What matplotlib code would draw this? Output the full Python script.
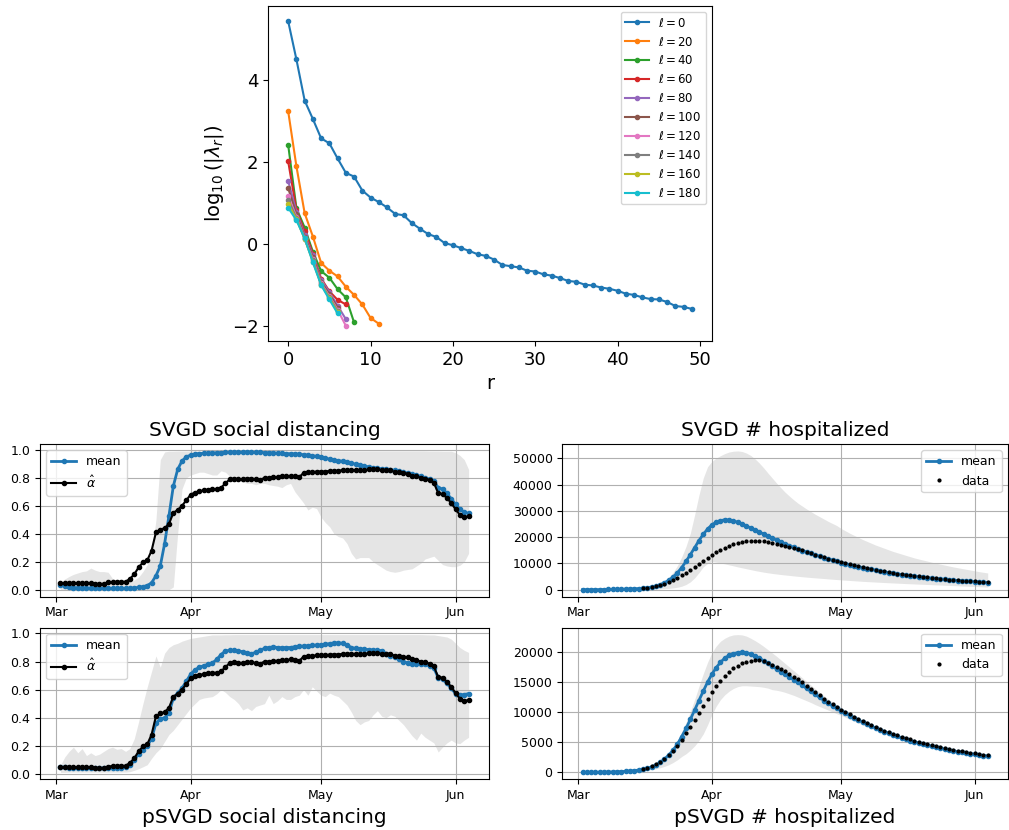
import numpy as np
import matplotlib
matplotlib.use("Agg")
import matplotlib.pyplot as plt
import matplotlib.dates as mdates
from matplotlib.ticker import MultipleLocator

W, H = 1009, 830
NAN = np.nan

# ---- eigenvalue decay, log10(|lambda_r|) per ell ----
ELLS = [0, 20, 40, 60, 80, 100, 120, 140, 160, 180]
EIG = [
    [5.42, 4.49, 3.49, 3.04, 2.57, 2.45, 2.08, 1.73, 1.64, 1.30,
     1.13, 1.02, 0.89, 0.73, 0.70, 0.51, 0.37, 0.24, 0.17, 0.02,
     -0.03, -0.10, -0.17, -0.25, -0.29, -0.38, -0.51, -0.54, -0.57, -0.65,
     -0.67, -0.74, -0.77, -0.83, -0.90, -0.92, -0.99, -1.01, -1.06, -1.09,
     -1.14, -1.21, -1.24, -1.30, -1.34, -1.35, -1.41, -1.51, -1.53, -1.58],
    [3.23, 1.89, 0.75, 0.18, -0.46, -0.65, -0.79, -1.04, -1.24, -1.47, -1.80, -1.94],
    [2.41, 0.87, 0.40, -0.19, -0.66, -0.82, -1.10, -1.30, -1.91],
    [2.01, 0.83, 0.31, -0.24, -0.84, -1.15, -1.36, -1.47],
    [1.54, 0.78, 0.22, -0.28, -0.88, -1.17, -1.50, -1.83],
    [1.36, 0.72, 0.18, -0.32, -0.92, -1.22, -1.55],
    [1.17, 0.66, 0.14, -0.37, -0.96, -1.27, -1.60, -1.99],
    [1.08, 0.63, 0.12, -0.40, -0.98, -1.30, -1.63],
    [0.98, 0.60, 0.13, -0.43, -0.99, -1.32, -1.66],
    [0.88, 0.58, 0.14, -0.45, -1.00, -1.35, -1.69],
]

# ---- daily series, 2020-03-02 .. 2020-06-04 ----
DATES = np.arange(np.datetime64("2020-03-02"), np.datetime64("2020-06-05"))

ALPHA_HAT = [
    0.048, 0.048, 0.047, 0.046, 0.046, 0.046, 0.045, 0.045, 0.042, 0.041,
    0.043, 0.052, 0.055, 0.056, 0.057, 0.057, 0.078, 0.110, 0.160, 0.195,
    0.210, 0.280, 0.410, 0.430, 0.440, 0.470, 0.550, 0.570, 0.600, 0.640,
    0.680, 0.695, 0.705, 0.710, 0.715, 0.720, 0.720, 0.730, 0.760, 0.790,
    0.795, 0.790, 0.790, 0.795, 0.795, 0.790, 0.785, 0.800, 0.800, 0.805,
    0.805, 0.810, 0.810, 0.815, 0.810, 0.805, 0.835, 0.840, 0.840, 0.845,
    0.845, 0.845, 0.850, 0.850, 0.850, 0.855, 0.855, 0.855, 0.855, 0.855,
    0.855, 0.860, 0.860, 0.860, 0.855, 0.855, 0.855, 0.840, 0.840, 0.835,
    0.830, 0.815, 0.810, 0.800, 0.795, 0.785, 0.765, 0.690, 0.685, 0.655,
    0.620, 0.575, 0.535, 0.520, 0.525]

SD_SVGD_MEAN = [
    0.031, 0.024, 0.019, 0.016, 0.014, 0.013, 0.012, 0.011, 0.010, 0.010,
    0.009, 0.009, 0.009, 0.009, 0.009, 0.010, 0.011, 0.013, 0.017, 0.022,
    0.030, 0.050, 0.100, 0.170, 0.330, 0.530, 0.740, 0.860, 0.920, 0.950,
    0.962, 0.970, 0.973, 0.975, 0.977, 0.978, 0.979, 0.980, 0.981, 0.982,
    0.982, 0.983, 0.983, 0.983, 0.983, 0.982, 0.981, 0.980, 0.979, 0.978,
    0.976, 0.975, 0.973, 0.972, 0.970, 0.968, 0.965, 0.962, 0.958, 0.953,
    0.947, 0.940, 0.933, 0.927, 0.922, 0.918, 0.912, 0.905, 0.897, 0.890,
    0.884, 0.878, 0.873, 0.868, 0.864, 0.860, 0.857, 0.853, 0.847, 0.840,
    0.833, 0.826, 0.818, 0.810, 0.800, 0.790, 0.775, 0.730, 0.720, 0.690,
    0.650, 0.610, 0.575, 0.555, 0.545]
SD_SVGD_LO = [
    0.0, 0.0, 0.0, 0.0, 0.0, 0.0, 0.0, 0.0, 0.0, 0.0,
    0.0, 0.0, 0.0, 0.0, 0.0, 0.0, 0.0, 0.0, 0.0, 0.0,
    0.0, 0.0, 0.0, 0.0, 0.0, 0.0, 0.02, 0.40, 0.72, 0.80,
    0.82, 0.83, 0.84, 0.84, 0.83, 0.82, 0.82, 0.85, 0.84, 0.81,
    0.79, 0.78, 0.77, 0.76, 0.76, 0.75, 0.76, 0.76, 0.75, 0.745,
    0.74, 0.73, 0.75, 0.76, 0.70, 0.66, 0.62, 0.57, 0.59, 0.58,
    0.52, 0.48, 0.45, 0.40, 0.38, 0.37, 0.33, 0.26, 0.22, 0.23,
    0.23, 0.23, 0.20, 0.18, 0.16, 0.14, 0.13, 0.125, 0.13, 0.14,
    0.145, 0.15, 0.17, 0.19, 0.22, 0.23, 0.24, 0.21, 0.18, 0.17,
    0.165, 0.165, 0.175, 0.20, 0.26]
SD_SVGD_HI = [
    0.050, 0.077, 0.095, 0.110, 0.120, 0.130, 0.135, 0.155, 0.140, 0.130,
    0.130, 0.125, 0.080, 0.065, 0.060, 0.060, 0.060, 0.070, 0.090, 0.130,
    0.180, 0.260, 0.500, 0.930, 0.985, 0.990, 0.990, 0.991, 0.991, 0.991,
    0.992, 0.992, 0.992, 0.992, 0.992, 0.992, 0.992, 0.992, 0.992, 0.992,
    0.992, 0.992, 0.992, 0.992, 0.992, 0.992, 0.992, 0.992, 0.992, 0.992,
    0.992, 0.992, 0.992, 0.992, 0.992, 0.992, 0.992, 0.992, 0.992, 0.992,
    0.992, 0.992, 0.992, 0.992, 0.992, 0.992, 0.992, 0.992, 0.992, 0.992,
    0.992, 0.992, 0.992, 0.992, 0.992, 0.992, 0.992, 0.992, 0.992, 0.992,
    0.992, 0.992, 0.992, 0.992, 0.992, 0.991, 0.991, 0.991, 0.990, 0.990,
    0.990, 0.980, 0.960, 0.930, 0.860]

SD_PSVGD_MEAN = [
    0.048, 0.046, 0.044, 0.043, 0.042, 0.042, 0.042, 0.041, 0.040, 0.039,
    0.040, 0.042, 0.043, 0.044, 0.044, 0.045, 0.060, 0.096, 0.144, 0.170,
    0.200, 0.250, 0.360, 0.390, 0.400, 0.430, 0.540, 0.575, 0.610, 0.660,
    0.710, 0.740, 0.760, 0.770, 0.780, 0.790, 0.815, 0.850, 0.875, 0.880,
    0.880, 0.875, 0.870, 0.863, 0.856, 0.865, 0.880, 0.894, 0.900, 0.904,
    0.900, 0.898, 0.900, 0.900, 0.905, 0.910, 0.910, 0.912, 0.915, 0.918,
    0.918, 0.922, 0.928, 0.932, 0.933, 0.930, 0.918, 0.900, 0.893, 0.890,
    0.888, 0.885, 0.882, 0.880, 0.878, 0.855, 0.840, 0.830, 0.815, 0.800,
    0.790, 0.785, 0.785, 0.785, 0.780, 0.768, 0.755, 0.683, 0.675, 0.645,
    0.610, 0.570, 0.560, 0.565, 0.571]
SD_PSVGD_LO = [
    0.010, 0.010, 0.012, 0.012, 0.012, 0.012, 0.012, 0.012, 0.012, 0.012,
    0.012, 0.012, 0.012, 0.012, 0.012, 0.012, 0.015, 0.025, 0.036, 0.050,
    0.065, 0.110, 0.150, 0.180, 0.230, 0.280, 0.310, 0.350, 0.390, 0.430,
    0.470, 0.500, 0.530, 0.540, 0.545, 0.550, 0.570, 0.600, 0.580, 0.550,
    0.530, 0.500, 0.455, 0.470, 0.450, 0.480, 0.490, 0.500, 0.560, 0.500,
    0.520, 0.550, 0.530, 0.530, 0.550, 0.560, 0.600, 0.560, 0.620, 0.590,
    0.560, 0.550, 0.575, 0.560, 0.550, 0.520, 0.490, 0.440, 0.380, 0.350,
    0.370, 0.380, 0.420, 0.450, 0.410, 0.400, 0.420, 0.410, 0.380, 0.350,
    0.310, 0.270, 0.240, 0.290, 0.260, 0.240, 0.220, 0.155, 0.190, 0.220,
    0.240, 0.220, 0.215, 0.240, 0.260]
SD_PSVGD_HI = [
    0.060, 0.120, 0.160, 0.190, 0.150, 0.180, 0.130, 0.150, 0.130, 0.140,
    0.160, 0.180, 0.190, 0.175, 0.180, 0.160, 0.180, 0.250, 0.370, 0.500,
    0.620, 0.730, 0.840, 0.760, 0.860, 0.900, 0.920, 0.930, 0.945, 0.955,
    0.965, 0.970, 0.975, 0.980, 0.985, 0.990, 0.990, 0.990, 0.991, 0.991,
    0.992, 0.992, 0.992, 0.992, 0.992, 0.992, 0.992, 0.992, 0.992, 0.992,
    0.992, 0.992, 0.992, 0.992, 0.992, 0.992, 0.992, 0.992, 0.992, 0.992,
    0.992, 0.992, 0.992, 0.992, 0.992, 0.992, 0.992, 0.992, 0.992, 0.992,
    0.992, 0.992, 0.992, 0.992, 0.992, 0.992, 0.992, 0.992, 0.992, 0.992,
    0.992, 0.992, 0.992, 0.992, 0.991, 0.990, 0.990, 0.985, 0.980, 0.975,
    0.960, 0.930, 0.900, 0.880, 0.865]

H_DATA = [
    NAN, NAN, NAN, NAN, NAN, NAN, NAN, NAN, NAN, NAN,
    NAN, NAN, NAN, NAN, 600, 800, 1080, 1400, 1800, 2300,
    2900, 3600, 4450, 5450, 6500, 7600, 8700, 9900, 11100, 12250,
    13300, 14300, 15250, 16050, 16750, 17300, 17750, 18100, 18380, 18580,
    18680, 18630, 18460, 18200, 17920, 17550, 17200, 16820, 16380, 15900,
    15450, 14960, 14420, 13870, 13370, 12830, 12280, 11780, 11290, 10850,
    10410, 10030, 9640, 9260, 8880, 8500, 8160, 7840, 7510, 7230,
    6960, 6680, 6410, 6150, 5920, 5700, 5480, 5260, 5050, 4880,
    4670, 4490, 4330, 4160, 4000, 3890, 3730, 3620, 3510, 3400,
    3290, 3180, 3070, 2960, 2860]

H_SVGD_MEAN = [
    20, 30, 40, 55, 70, 90, 110, 140, 170, 210,
    250, 310, 380, 460, 560, 760, 1040, 1420, 1950, 2650,
    3600, 4850, 6450, 8450, 10800, 13350, 16000, 18700, 21100, 23100,
    24700, 25700, 26300, 26600, 26500, 26200, 25700, 25000, 24300, 23500,
    22800, 22000, 21200, 20400, 19650, 18900, 18150, 17450, 16750, 16100,
    15500, 14900, 14350, 13800, 13250, 12750, 12250, 11750, 11250, 10800,
    10350, 9950, 9550, 9150, 8780, 8420, 8070, 7740, 7420, 7120,
    6830, 6550, 6280, 6030, 5790, 5560, 5340, 5130, 4930, 4740,
    4560, 4390, 4230, 4070, 3920, 3780, 3640, 3510, 3390, 3270,
    3160, 3050, 2950, 2850, 2760]
H_SVGD_LO = [
    5, 7, 9, 12, 15, 19, 24, 30, 37, 46,
    57, 70, 86, 105, 130, 160, 200, 250, 320, 410,
    530, 700, 950, 1350, 2000, 3000, 4500, 6500, 8700, 10000,
    10700, 10500, 10200, 9850, 9450, 9100, 8700, 8350, 8000, 7650,
    7300, 7000, 6700, 6450, 6200, 6000, 5800, 5620, 5450, 5270,
    5100, 4950, 4800, 4660, 4530, 4400, 4270, 4140, 4010, 3880,
    3750, 3640, 3530, 3420, 3310, 3200, 3110, 3020, 2930, 2840,
    2750, 2670, 2590, 2510, 2430, 2350, 2280, 2210, 2140, 2070,
    2000, 1930, 1860, 1790, 1720, 1650, 1580, 1510, 1440, 1370,
    1300, 1240, 1180, 1110, 1050]
H_SVGD_HI = [
    60, 80, 100, 120, 150, 180, 220, 270, 330, 400,
    490, 600, 730, 900, 1100, 1400, 1750, 2150, 2700, 3600,
    4800, 6600, 9200, 12500, 16500, 21500, 28500, 36000, 42500, 46800,
    48800, 50100, 51000, 51800, 52400, 52700, 52800, 52600, 52000, 51100,
    49800, 48200, 46400, 44400, 42500, 40600, 38800, 37100, 35600, 34200,
    32900, 31800, 30700, 29700, 28700, 27800, 26900, 26000, 25200, 24400,
    23300, 22400, 21500, 20700, 19900, 19100, 18400, 17700, 17000, 16400,
    15800, 15200, 14600, 14100, 13600, 13100, 12600, 12100, 11700, 11300,
    10900, 10500, 10100, 9750, 9400, 9050, 8700, 8400, 8100, 7800,
    7500, 7200, 6900, 6650, 6400]

H_PSVGD_MEAN = [
    10, 15, 20, 30, 40, 55, 70, 90, 110, 140,
    180, 230, 300, 390, 500, 680, 920, 1240, 1660, 2220,
    2900, 3700, 4700, 5950, 7300, 8800, 10350, 11950, 13500, 15000,
    16300, 17400, 18300, 19000, 19450, 19750, 19900, 19950, 19880, 19680,
    19380, 19000, 18550, 18100, 17650, 17200, 16750, 16300, 15850, 15400,
    14950, 14450, 13950, 13450, 12950, 12450, 11950, 11500, 11050, 10650,
    10250, 9850, 9450, 9050, 8700, 8350, 8000, 7680, 7370, 7070,
    6780, 6500, 6230, 5980, 5740, 5510, 5290, 5080, 4880, 4690,
    4510, 4340, 4170, 4010, 3860, 3720, 3590, 3460, 3340, 3220,
    3110, 3000, 2900, 2800, 2710]
H_PSVGD_LO = [
    5, 8, 10, 15, 20, 25, 35, 45, 55, 70,
    100, 130, 170, 230, 300, 380, 480, 610, 780, 1000,
    1280, 1650, 2100, 2650, 3100, 3700, 4400, 5300, 6400, 7900,
    9600, 11000, 12100, 12900, 13500, 13950, 14250, 14400, 14400, 14350,
    14300, 14250, 14150, 14000, 13750, 13650, 13500, 13300, 13050, 12800,
    12500, 12200, 11900, 11600, 11250, 10950, 10650, 10350, 10050, 9750,
    9450, 9150, 8800, 8500, 8200, 7900, 7600, 7300, 7050, 6800,
    6550, 6300, 6050, 5820, 5600, 5380, 5170, 4970, 4780, 4600,
    4420, 4250, 4090, 3930, 3780, 3640, 3500, 3370, 3250, 3130,
    3020, 2910, 2810, 2710, 2620]
H_PSVGD_HI = [
    20, 30, 40, 55, 70, 90, 110, 140, 170, 210,
    270, 350, 450, 580, 650, 870, 1150, 1500, 2000, 2600,
    3300, 4200, 5300, 6700, 8300, 10100, 12100, 14300, 16400, 18300,
    19900, 21000, 21800, 22300, 22650, 22850, 22900, 22850, 22650, 22300,
    21900, 21450, 20950, 20400, 19850, 19300, 18700, 18100, 17500, 16900,
    16300, 15700, 15100, 14500, 13900, 13300, 12750, 12200, 11700, 11200,
    10750, 10300, 9850, 9450, 9050, 8650, 8300, 7950, 7600, 7300,
    7150, 6850, 6560, 6290, 6030, 5790, 5560, 5340, 5130, 4930,
    4740, 4560, 4390, 4230, 4080, 3940, 3800, 3670, 3550, 3430,
    3320, 3210, 3110, 3010, 2920]

for s in [ALPHA_HAT, SD_SVGD_MEAN, SD_SVGD_LO, SD_SVGD_HI, SD_PSVGD_MEAN, SD_PSVGD_LO,
          SD_PSVGD_HI, H_DATA, H_SVGD_MEAN, H_SVGD_LO, H_SVGD_HI, H_PSVGD_MEAN,
          H_PSVGD_LO, H_PSVGD_HI]:
    assert len(s) == len(DATES), len(s)


def box(l, t, r, b):
    return [l / W, 1 - b / H, (r - l) / W, (b - t) / H]


fig = plt.figure(figsize=(W / 100, H / 100), dpi=100)

# eigenvalue panel
ax = fig.add_axes(box(268, 6, 712, 341))
for ell, vals in zip(ELLS, EIG):
    ax.plot(np.arange(len(vals)), vals, ".-", label=rf"$\ell = {ell}$")
ax.set_xlabel("r", fontsize=14)
ax.set_ylabel(r"$\log_{10}(|\lambda_r|)$", fontsize=14)
ax.yaxis.set_major_locator(MultipleLocator(2))
ax.tick_params(labelsize=13)
ax.legend(loc="upper right", fontsize=8.5)


def date_axis(ax):
    ax.xaxis.set_major_locator(mdates.MonthLocator())
    ax.xaxis.set_major_formatter(mdates.DateFormatter("%b"))
    ax.tick_params(labelsize=9)
    ax.grid(True)


def sd_panel(ax, mean, lo, hi):
    ax.fill_between(DATES, lo, hi, color="gray", alpha=0.2, linewidth=0)
    ax.plot(DATES, mean, ".-", color="C0", lw=2, label="mean")
    ax.plot(DATES, ALPHA_HAT, ".-", color="k", lw=1.5, label=r"$\hat{\alpha}$")
    ax.legend(loc="upper left", fontsize=9)
    date_axis(ax)


def hosp_panel(ax, mean, lo, hi):
    ax.fill_between(DATES, lo, hi, color="gray", alpha=0.2, linewidth=0)
    ax.plot(DATES, mean, ".-", color="C0", lw=2, label="mean")
    ax.plot(DATES, H_DATA, "k.", ms=4, label="data")
    ax.legend(loc="upper right", fontsize=9)
    date_axis(ax)


a1 = fig.add_axes(box(40, 444, 489, 596.7))
sd_panel(a1, SD_SVGD_MEAN, SD_SVGD_LO, SD_SVGD_HI)
a1.set_title("SVGD social distancing", fontsize=14.5)

a2 = fig.add_axes(box(40, 627.7, 489, 779.3))
sd_panel(a2, SD_PSVGD_MEAN, SD_PSVGD_LO, SD_PSVGD_HI)
a2.set_xlabel("pSVGD social distancing", fontsize=14.5)

a3 = fig.add_axes(box(562.3, 444, 1008, 596.7))
hosp_panel(a3, H_SVGD_MEAN, H_SVGD_LO, H_SVGD_HI)
a3.set_title("SVGD # hospitalized", fontsize=14.5)

a4 = fig.add_axes(box(562.3, 627.7, 1008, 779.3))
hosp_panel(a4, H_PSVGD_MEAN, H_PSVGD_LO, H_PSVGD_HI)
a4.set_xlabel("pSVGD # hospitalized", fontsize=14.5)

fig.savefig("out.png", dpi=100)
